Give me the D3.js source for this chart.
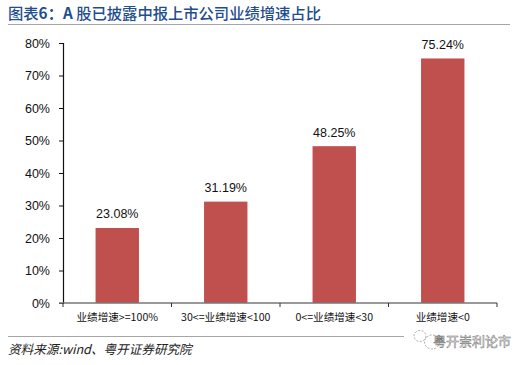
<!DOCTYPE html>
<html><head><meta charset="utf-8">
<script src="https://cdn.jsdelivr.net/npm/d3@7"></script>
<style>html,body{margin:0;padding:0;background:#fff}svg{display:block}text{font-family:"Noto Sans CJK SC","Liberation Sans",sans-serif}</style>
</head><body><svg id="c" width="527" height="365"></svg>
<script>
const categories=["业绩增速>=100%","30<=业绩增速<100","0<=业绩增速<30","业绩增速<0"];
const values=[23.08,31.19,48.25,75.24];
const yTicks=[0,10,20,30,40,50,60,70,80];
const titleParts=[["图表",500],["6：A",700],[" 股已披露中报上市公司业绩增速占比",500]];
const sourceText="资料来源:wind、粤开证券研究院";
const watermarkText="粤开崇利论市";

const svg=d3.select("#c");
const y=d3.scaleLinear().domain([0,80]).range([303,43]);
const x=d3.scaleBand().domain(categories).range([63,497]).paddingInner(0.6).paddingOuter(0.3);

svg.append("text").attr("x",8).attr("y",19).attr("font-size",15.3).attr("fill","#1f4e8c")
 .selectAll("tspan").data(titleParts).join("tspan").attr("font-weight",d=>d[1]).text(d=>d[0]);
svg.append("line").attr("x1",8).attr("x2",510).attr("y1",24.5).attr("y2",24.5).attr("stroke","#a6a6a6").attr("stroke-width",1);

svg.selectAll("rect.bar").data(values).join("rect").attr("class","bar")
 .attr("x",(d,i)=>x(categories[i])).attr("width",x.bandwidth())
 .attr("y",d=>y(d)).attr("height",d=>y(0)-y(d)).attr("fill","#c0504d");

svg.selectAll("text.val").data(values).join("text").attr("class","val")
 .attr("x",(d,i)=>x(categories[i])+x.bandwidth()/2).attr("y",d=>y(d)-9.5)
 .attr("text-anchor","middle").attr("font-size",12.5).attr("fill","#111")
 .style("font-family","'Liberation Sans',sans-serif")
 .text(d=>d.toFixed(2)+"%");

const yAxis=svg.append("g").attr("transform","translate(63,0)")
 .call(d3.axisLeft(y).tickValues(yTicks).tickSize(4).tickFormat(d=>d+"%"));
yAxis.selectAll("path,line").attr("stroke","#111");
yAxis.select("path").attr("stroke-width",1.2);
yAxis.selectAll("text").attr("font-size",12.5).attr("fill","#111").attr("x",-13).style("font-family","'Liberation Sans',sans-serif");

const xAxis=svg.append("g");
xAxis.append("line").attr("x1",59).attr("x2",497).attr("y1",303).attr("y2",303).attr("stroke","#777").attr("stroke-width",1.5);
const step=x.step();
xAxis.selectAll("line.t").data(d3.range(categories.length+1)).join("line").attr("class","t")
 .attr("x1",d=>63+step*d).attr("x2",d=>63+step*d).attr("y1",303).attr("y2",307).attr("stroke","#333");
xAxis.selectAll("text").data(categories).join("text")
 .attr("x",d=>x(d)+x.bandwidth()/2).attr("y",321).attr("text-anchor","middle").attr("font-size",10.6).attr("fill","#111").text(d=>d);

svg.append("line").attr("x1",8).attr("x2",404).attr("y1",336.5).attr("y2",336.5).attr("stroke","#a6a6a6");
svg.append("text").attr("x",8).attr("y",354).attr("font-size",12.6).attr("font-style","italic").attr("fill","#222").text(sourceText);

const wm=svg.append("g").attr("fill","none").attr("stroke","#aaa").attr("stroke-dasharray","2 1.5");
wm.append("ellipse").attr("cx",420).attr("cy",336).attr("rx",6).attr("ry",5.5);
wm.append("ellipse").attr("cx",432).attr("cy",342).attr("rx",7.5).attr("ry",7);
svg.append("text").attr("x",433).attr("y",346).attr("font-size",13).attr("fill","#fff").attr("stroke","#777").attr("stroke-width",0.5).text(watermarkText);
</script></body></html>
